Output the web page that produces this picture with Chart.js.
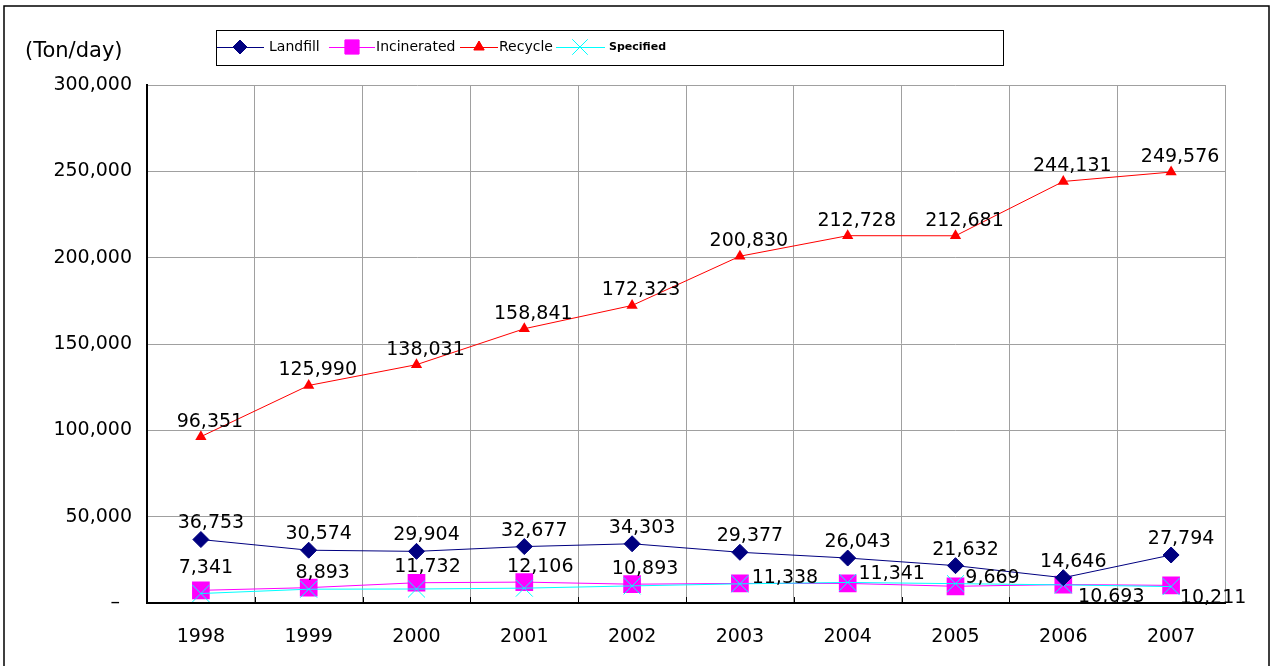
<!DOCTYPE html>
<html>
<head>
<meta charset="utf-8">
<script src="https://cdn.jsdelivr.net/npm/chart.js@4"></script>
<style>
  html,body{margin:0;padding:0;background:#fff;}
  #wrap{width:1271px;height:666px;position:relative;}
</style>
</head>
<body>
<div id="wrap"><canvas id="c" width="1271" height="666"></canvas></div>
<script>
const years = ['1998','1999','2000','2001','2002','2003','2004','2005','2006','2007'];
const landfill = [36753, 30574, 29904, 32677, 34303, 29377, 26043, 21632, 14646, 27794];
const incinerated = [7341, 8893, 11732, 12106, 10893, 11338, 11341, 9669, 10693, 10211];
const recycle = [96351, 125990, 138031, 158841, 172323, 200830, 212728, 212681, 244131, 249576];
const specified = [5500, 8000, 8100, 8600, 9900, 11100, 11900, 11200, 10500, 9500];
const yTicks = [0, 50000, 100000, 150000, 200000, 250000, 300000];
const seriesNames = ['Landfill', 'Incinerated', 'Recycle', 'Specified'];
const unitLabel = '(Ton/day)';

const FONT = '"DejaVu Sans", sans-serif';
const fmt = v => v.toLocaleString('en-US');

// label offsets (pixels) relative to each marker
const incLabelOffsets = [[5,-22],[14,-15],[11,-16],[16,-15],[13,-15],[45,-5],[44,-9],[37,-8],[48,13],[42,13]];

const labelPlugin = {
  id: 'valueLabels',
  afterDatasetsDraw(chart) {
    const ctx = chart.ctx;
    ctx.save();
    ctx.font = '19px ' + FONT;
    ctx.fillStyle = '#000';
    ctx.textAlign = 'center';
    ctx.textBaseline = 'middle';
    chart.data.datasets.forEach((ds, i) => {
      if (!ds.showLabels) return;
      const meta = chart.getDatasetMeta(i);
      meta.data.forEach((pt, j) => {
        let off = ds.labelOffsets ? ds.labelOffsets[j] : ds.labelOffset;
        ctx.fillText(fmt(ds.data[j]), pt.x + off[0], pt.y + off[1]);
      });
    });
    ctx.restore();
  }
};

const framePlugin = {
  id: 'frame',
  beforeDraw(chart) {
    const ctx = chart.ctx;
    ctx.save();
    ctx.fillStyle = '#fff';
    ctx.fillRect(0, 0, chart.width, chart.height);
    ctx.strokeStyle = '#000';
    ctx.lineWidth = 1.5;
    ctx.beginPath();
    ctx.moveTo(4, 700);
    ctx.lineTo(4, 6);
    ctx.lineTo(1269, 6);
    ctx.lineTo(1269, 700);
    ctx.stroke();
    // unit label
    ctx.font = '21px ' + FONT;
    ctx.fillStyle = '#000';
    ctx.textAlign = 'left';
    ctx.textBaseline = 'middle';
    ctx.fillText(unitLabel, 25, 52);
    ctx.restore();
  },
  afterDraw(chart) {
    const ctx = chart.ctx;
    ctx.save();
    // small tick stubs on the bottom axis
    const xs = chart.scales.x, ys = chart.scales.y;
    ctx.strokeStyle = '#000';
    ctx.lineWidth = 1;
    for (let i = 1; i < years.length; i++) {
      const gx = Math.round((xs.getPixelForTick(i - 1) + xs.getPixelForTick(i)) / 2) + 0.5;
      ctx.beginPath();
      ctx.moveTo(gx, ys.bottom);
      ctx.lineTo(gx, ys.bottom - 6);
      ctx.stroke();
    }
    // legend box
    ctx.strokeStyle = '#000';
    ctx.lineWidth = 1;
    ctx.strokeRect(216.5, 30.5, 787, 35);
    const y = 47;
    const items = [
      {x0: 217, x1: 264, mx: 240, tx: 269, color: '#000080', style: 'rectRot', r: 7, font: '14px ' + FONT},
      {x0: 329, x1: 375, mx: 352, tx: 376, color: '#FF00FF', style: 'rect', r: 10, font: '14px ' + FONT},
      {x0: 460, x1: 498, mx: 479, tx: 499, color: '#FF0000', style: 'triangle', r: 6, font: '14px ' + FONT},
      {x0: 556, x1: 605, mx: 580, tx: 609, color: '#00FFFF', style: 'crossRot', r: 11, font: 'bold 11px ' + FONT}
    ];
    items.forEach((it, i) => {
      ctx.strokeStyle = it.color;
      ctx.lineWidth = 1;
      ctx.beginPath();
      ctx.moveTo(it.x0, y + 0.5);
      ctx.lineTo(it.x1, y + 0.5);
      ctx.stroke();
      ctx.fillStyle = it.color;
      Chart.helpers.drawPoint(ctx, {pointStyle: it.style, radius: it.r, borderWidth: 1, rotation: 0}, it.mx, y);
      if (it.style !== 'crossRot') ctx.fill();
      ctx.fillStyle = '#000';
      ctx.font = it.font;
      ctx.textAlign = 'left';
      ctx.textBaseline = 'middle';
      ctx.fillText(seriesNames[i], it.tx, y);
    });
    ctx.restore();
  }
};

new Chart(document.getElementById('c'), {
  type: 'line',
  data: {
    labels: years,
    datasets: [
      {label: seriesNames[0], data: landfill, borderColor: '#000080', backgroundColor: '#000080',
       borderWidth: 1, pointStyle: 'rectRot', pointRadius: 8, pointBorderWidth: 1,
       order: 0, showLabels: true, labelOffset: [10, -16]},
      {label: seriesNames[1], data: incinerated, borderColor: '#FF00FF', backgroundColor: '#FF00FF',
       borderWidth: 1, pointStyle: 'rect', pointRadius: 12.5, pointBorderWidth: 0,
       order: 2, showLabels: true, labelOffsets: incLabelOffsets},
      {label: seriesNames[2], data: recycle, borderColor: '#FF0000', backgroundColor: '#FF0000',
       borderWidth: 1, pointStyle: 'triangle', pointRadius: 6.5, pointBorderWidth: 0,
       order: 3, showLabels: true, labelOffset: [9, -15]},
      {label: seriesNames[3], data: specified, borderColor: '#00FFFF', backgroundColor: '#00FFFF',
       borderWidth: 1, pointStyle: 'crossRot', pointRadius: 12, pointBorderWidth: 1,
       order: 1, showLabels: false}
    ]
  },
  options: {
    responsive: false,
    animation: false,
    devicePixelRatio: 1,
    layout: {padding: {top: 85, right: 46, bottom: 0, left: 0}},
    plugins: {legend: {display: false}, tooltip: {enabled: false}, title: {display: false}},
    elements: {line: {tension: 0}},
    scales: {
      x: {
        type: 'category',
        offset: true,
        grid: {offset: true, color: '#a0a0a0', lineWidth: 1, drawTicks: false},
        border: {color: '#000', width: 2},
        ticks: {color: '#000', font: {family: FONT, size: 19}, padding: 23, maxRotation: 0},
        afterFit(s) { s.height = 63; }
      },
      y: {
        min: 0, max: 300000,
        afterBuildTicks(s) { s.ticks = yTicks.map(v => ({value: v})); },
        grid: {color: '#a0a0a0', lineWidth: 1, drawTicks: false},
        border: {color: '#000', width: 2},
        ticks: {color: '#000', font: {family: FONT, size: 19}, padding: 15,
                callback: v => v === 0 ? '–  ' : fmt(v)},
        afterFit(s) { s.width = 147; }
      }
    }
  },
  plugins: [framePlugin, labelPlugin]
});
</script>
</body>
</html>
